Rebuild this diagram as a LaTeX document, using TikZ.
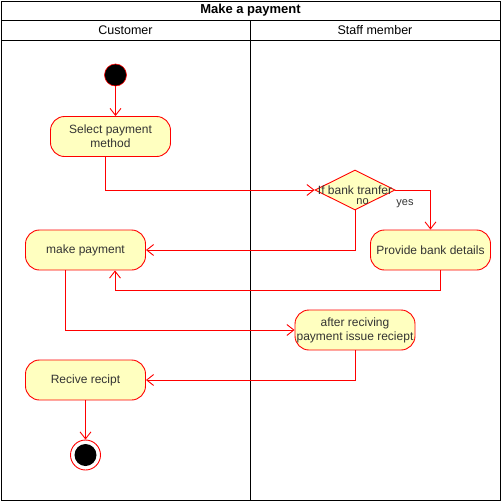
\documentclass[tikz,border=0pt]{standalone}
\usepackage{fontspec}
\setmainfont{Liberation Sans}
\usetikzlibrary{arrows.meta,shapes.geometric}
\definecolor{actfill}{HTML}{FFFFC0}
\definecolor{actline}{HTML}{FF0000}
\definecolor{acttext}{HTML}{333333}
\tikzset{
  lane/.style={draw=black, line width=1pt},
  action/.style={draw=actline, fill=actfill, rounded corners=14pt, line width=0.9pt,
    minimum width=120pt, minimum height=40pt, inner sep=0pt, align=center,
    text=acttext, font=\fontsize{12}{14}\selectfont},
  decision/.style={draw=actline, fill=actfill, diamond, line width=0.9pt,
    minimum width=80pt, minimum height=40pt, inner sep=0pt},
  flow/.style={draw=actline, line width=0.9pt, -{Straight Barb[length=7pt,width=11pt]}},
  guard/.style={text=acttext, font=\fontsize{11}{13}\selectfont, inner sep=0pt},
  header/.style={font=\fontsize{12.5}{14}\selectfont, inner sep=0pt},
}
\begin{document}
\begin{tikzpicture}[x=1pt, y=-1pt]
\useasboundingbox (0,0) rectangle (501,501);
% swimlane frame
\draw[lane] (1,1) rectangle (500,500);
\draw[lane] (1,20) -- (500,20);
\draw[lane] (1,40) -- (500,40);
\draw[lane] (250,20) -- (250,500);
\node[font=\bfseries\fontsize{13}{15}\selectfont, inner sep=0pt] (title) at (250.5,10) {Make a payment};
\node[header] (hcust) at (125.5,30) {Customer};
\node[header] (hstaff) at (375,30) {Staff member};

% initial and final states
\node[circle, fill=black, draw=actline, line width=0.6pt, minimum size=22pt, inner sep=0pt] (start) at (115.5,75) {};
\node[circle, draw=actline, fill=white, line width=0.9pt, minimum size=30pt, inner sep=0pt] (stop) at (85.5,455) {};
\node[circle, fill=black, minimum size=22pt, inner sep=0pt] (stopdot) at (85.5,455) {};

% actions
\node[action] (sel) at (110.5,136.5) {Select payment\\method};
\node[decision, label={[guard, font=\fontsize{12}{14}\selectfont]center:If bank tranfer}] (dec) at (355,190) {};
\node[action] (pbd) at (430.5,250) {Provide bank details};
\node[action] (mp) at (85.5,250) {make payment};
\node[action] (arp) at (355,330) {after reciving\\payment issue reciept};
\node[action] (rr) at (85.5,380) {Recive recipt};

% guards
\node[guard] (gno) at (362.5,201.5) {no};
\node[guard] (gyes) at (405,203.5) {yes};

% control flow
\draw[flow] (start) -- (start |- sel.north);
\draw[flow] ([xshift=-5.5pt]sel.south) |- (dec.west);
\draw[flow] (dec.east) -| (pbd.north);
\draw[flow] (dec.south) |- (mp.east);
\draw[flow] ([xshift=9.5pt]pbd.south) -- ++(0,20) -| ([xshift=29.5pt]mp.south);
\draw[flow] ([xshift=-20pt]mp.south) |- (arp.west);
\draw[flow] (arp.south) |- (rr.east);
\draw[flow] (rr.south) -- (stop.north);
\end{tikzpicture}
\end{document}
